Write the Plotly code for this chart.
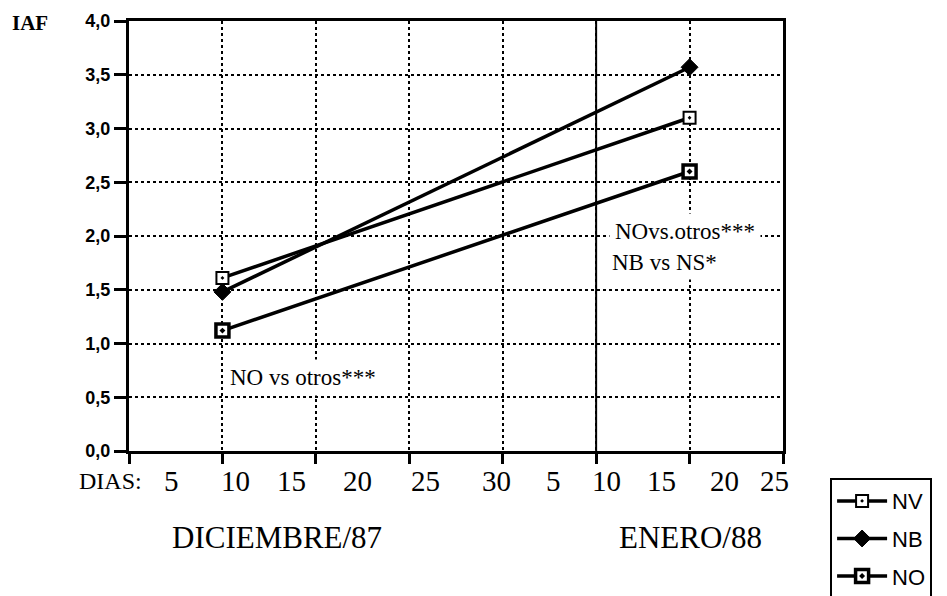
import plotly.graph_objects as go

# Data (x = day counted from 1 December 1987; 45 = 14 January 1988)
x_days = [10, 45]
nv = [1.61, 3.10]
nb = [1.48, 3.57]
no = [1.12, 2.60]
series_names = ["NV", "NB", "NO"]

y_ticks = [0.0, 0.5, 1.0, 1.5, 2.0, 2.5, 3.0, 3.5, 4.0]
y_tick_labels = ["0,0", "0,5", "1,0", "1,5", "2,0", "2,5", "3,0", "3,5", "4,0"]
week_ticks = [3, 10, 17, 24, 31, 38, 45, 52]
day_labels = ["5", "10", "15", "20", "25", "30", "5", "10", "15", "20", "25"]
day_label_pos = [6.15, 11.0, 15.2, 20.15, 25.25, 30.5, 34.8, 38.8, 42.9, 47.6, 51.35]

serif = "Liberation Serif"
sans = "Liberation Sans"

fig = go.Figure()
fig.add_trace(go.Scatter(
    x=x_days, y=nv, name=series_names[0], mode="lines+markers", legendgroup="a",
    line=dict(color="black", width=3.5),
    marker=dict(symbol="square-dot", size=12, color="white",
                line=dict(color="black", width=2)),
))
fig.add_trace(go.Scatter(
    x=x_days, y=nb, name=series_names[1], mode="lines+markers", legendgroup="b",
    line=dict(color="black", width=3.5),
    marker=dict(symbol="diamond", size=13, color="black",
                line=dict(color="black", width=1)),
))
fig.add_trace(go.Scatter(
    x=x_days, y=no, name=series_names[2], mode="lines+markers", legendgroup="c",
    line=dict(color="black", width=3.5),
    marker=dict(symbol="square-dot", size=13, color="white",
                line=dict(color="black", width=3.5)),
))

# solid vertical line at the start of January week
fig.add_shape(type="line", xref="x", yref="y", x0=38, x1=38, y0=0, y1=4,
              line=dict(color="black", width=2), layer="below")

annotations = []
for lab, pos in zip(day_labels, day_label_pos):
    annotations.append(dict(x=pos, y=-0.07, xref="x", yref="paper", text=lab,
                            showarrow=False, xanchor="center", yanchor="middle",
                            font=dict(family=serif, size=29, color="black")))
annotations += [
    dict(x=-0.029, y=-0.07, xref="paper", yref="paper", text="DIAS:",
         showarrow=False, xanchor="center", yanchor="middle",
         font=dict(family=serif, size=24, color="black")),
    dict(x=0.226, y=-0.2, xref="paper", yref="paper", text="DICIEMBRE/87",
         showarrow=False, xanchor="center", yanchor="middle",
         font=dict(family=serif, size=31, color="black")),
    dict(x=0.858, y=-0.2, xref="paper", yref="paper", text="ENERO/88",
         showarrow=False, xanchor="center", yanchor="middle",
         font=dict(family=serif, size=31, color="black")),
    dict(x=-0.151, y=0.995, xref="paper", yref="paper", text="<b>IAF</b>",
         showarrow=False, xanchor="center", yanchor="middle",
         font=dict(family=serif, size=21, color="black")),
    dict(x=10.1, y=0.68, xref="x", yref="y", text="NO vs otros***",
         showarrow=False, xanchor="left", yanchor="middle", bgcolor="white",
         borderpad=5, font=dict(family=serif, size=23, color="black")),
    dict(x=39.0, y=2.04, xref="x", yref="y", text="NOvs.otros***",
         showarrow=False, xanchor="left", yanchor="middle", bgcolor="white",
         borderpad=5, font=dict(family=serif, size=23, color="black")),
    dict(x=38.8, y=1.75, xref="x", yref="y", text="NB vs NS*",
         showarrow=False, xanchor="left", yanchor="middle", bgcolor="white",
         borderpad=4, font=dict(family=serif, size=23, color="black")),
]

fig.update_layout(
    width=947, height=596,
    margin=dict(l=129, r=164, t=21, b=145, autoexpand=False),
    paper_bgcolor="white", plot_bgcolor="white",
    showlegend=True,
    legend=dict(x=1.072, y=-0.063, xanchor="left", yanchor="top",
                bordercolor="black", borderwidth=2, bgcolor="white",
                font=dict(family=sans, size=22, color="black"),
                itemwidth=50, traceorder="grouped", tracegroupgap=6,
                entrywidth=140),
    annotations=annotations,
)
fig.update_xaxes(
    range=[3, 52], tickvals=week_ticks, showticklabels=False,
    showgrid=True, gridcolor="black", gridwidth=2, griddash="dot",
    ticks="outside", ticklen=10, tickwidth=2.5, tickcolor="black",
    showline=True, linecolor="black", linewidth=3, mirror=True,
    zeroline=False,
)
fig.update_yaxes(
    range=[0, 4], tickvals=y_ticks,
    ticktext=["<b>%s</b>" % t for t in y_tick_labels],
    showgrid=True, gridcolor="black", gridwidth=2, griddash="dot",
    ticks="outside", ticklen=12, tickwidth=3, tickcolor="black",
    showline=True, linecolor="black", linewidth=3, mirror=True,
    zeroline=False,
    tickfont=dict(family=sans, size=18, color="black"),
)

fig.write_html("out.html")
